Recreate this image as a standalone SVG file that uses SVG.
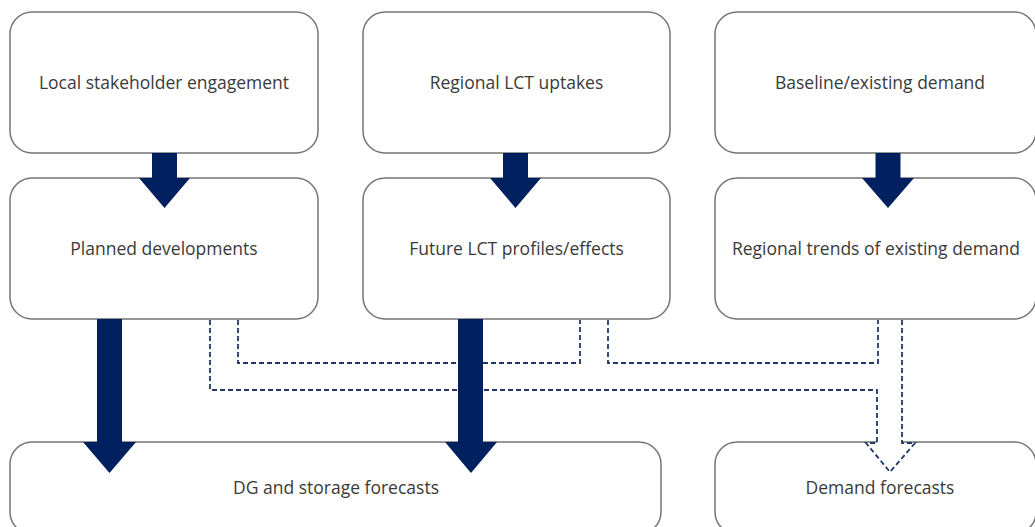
<svg xmlns="http://www.w3.org/2000/svg" width="1035" height="527" viewBox="0 0 1035 527">
  <style>
    .box { fill: #ffffff; stroke: #767676; stroke-width: 1.5; }
    .lbl { font-family: "Open Sans", "Noto Sans", sans-serif; font-size: 17.5px; fill: #3a3a3a; text-anchor: middle; }
    .solid { fill: #002060; stroke: none; }
    .dashfill { fill: #ffffff; stroke: none; }
    .dash { fill: none; stroke: #1F3864; stroke-width: 1.8; stroke-dasharray: 5 3; }
  </style>
  <rect width="1035" height="527" fill="#ffffff"/>

  <g id="node-local">
    <rect class="box" x="10" y="12" width="308" height="141" rx="22" ry="22"/>
    <text class="lbl" x="164" y="89">Local stakeholder engagement</text>
  </g>
  <g id="node-regional-lct">
    <rect class="box" x="363" y="12" width="307" height="141" rx="22" ry="22"/>
    <text class="lbl" x="516.5" y="89">Regional LCT uptakes</text>
  </g>
  <g id="node-baseline">
    <rect class="box" x="715" y="12" width="321" height="141" rx="22" ry="22"/>
    <text class="lbl" x="880" y="89">Baseline/existing demand</text>
  </g>
  <g id="node-planned">
    <rect class="box" x="10" y="178" width="308" height="141" rx="22" ry="22"/>
    <text class="lbl" x="164" y="255">Planned developments</text>
  </g>
  <g id="node-future-lct">
    <rect class="box" x="363" y="178" width="307" height="141" rx="22" ry="22"/>
    <text class="lbl" x="516.5" y="255">Future LCT profiles/effects</text>
  </g>
  <g id="node-trends">
    <rect class="box" x="715" y="178" width="321" height="141" rx="22" ry="22"/>
    <text class="lbl" x="876" y="255">Regional trends of existing demand</text>
  </g>
  <g id="node-dg">
    <rect class="box" x="10" y="442" width="651" height="92" rx="22" ry="22"/>
    <text class="lbl" x="336" y="494">DG and storage forecasts</text>
  </g>
  <g id="node-demand">
    <rect class="box" x="715" y="442" width="321" height="92" rx="22" ry="22"/>
    <text class="lbl" x="880" y="494">Demand forecasts</text>
  </g>

  <g id="connectors">
    <!-- combined dashed block arrow into Demand forecasts -->
    <polygon class="dashfill" points="210,320 238,320 238,363 580,363 580,320 608,320 608,363 878,363 878,320 902,320 902,443 915,443 890,472 866,443 877,443 877,390 210,390"/>
    <path class="dash" d="M210,320 V390 H877 V443 H866 L890,472 L915,443 H902 V320 M238,320 V363 H580 V320 M608,320 V363 H878 V320"/>

    <!-- solid arrows row 1 to row 2 -->
    <polygon class="solid" points="152,153 177,153 177,178 190,178 164.5,208 139,178 152,178"/>
    <polygon class="solid" points="503,153 528,153 528,178 541,178 515.5,208 490,178 503,178"/>
    <polygon class="solid" points="875.5,153 900.5,153 900.5,178 914,178 888,208 862,178 875.5,178"/>

    <!-- solid arrows row 2 to DG -->
    <polygon class="solid" points="97,319 122,319 122,442 136,442 109.5,473 83,442 97,442"/>
    <polygon class="solid" points="458,319 483,319 483,442 497,442 471,473 445,442 458,442"/>
  </g>
</svg>
